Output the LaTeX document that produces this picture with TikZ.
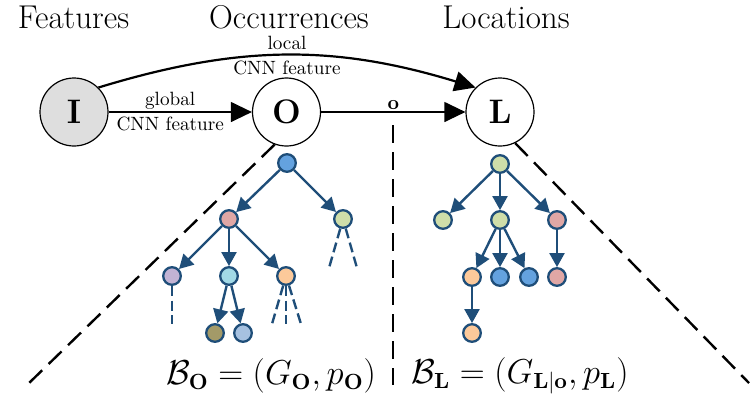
\documentclass[tikz,border=0pt]{standalone}
\usepackage{amsmath}
\usetikzlibrary{arrows.meta}

\definecolor{treeline}{HTML}{1F4E79}
\definecolor{cblue}{HTML}{64A2DF}
\definecolor{cpink}{HTML}{E0A7A5}
\definecolor{cgreen}{HTML}{CFDEA9}
\definecolor{cpurple}{HTML}{C2B3D4}
\definecolor{ccyan}{HTML}{A2D9E6}
\definecolor{cpeach}{HTML}{FCC99A}
\definecolor{colive}{HTML}{A39A68}
\definecolor{clblue}{HTML}{A6C1E0}
\definecolor{igray}{HTML}{DEDEDE}

\tikzset{
  bigvar/.style={circle, draw, line width=0.6pt, minimum size=34pt, inner sep=0pt,
    font=\fontsize{17}{20}\selectfont\bfseries},
  title/.style={anchor=base, font=\fontsize{16.5}{20}\selectfont},
  elabel/.style={align=center, font=\fontsize{9.6}{11.5}\selectfont, inner sep=1pt},
  bigarrow/.style={line width=0.6pt, -{Triangle[length=10.5pt,width=10pt]}},
  guide/.style={line width=1.2pt, dash pattern=on 9pt off 4.5pt},
  tnode/.style={circle, draw=treeline, line width=1.15pt, minimum size=8.8pt, inner sep=0pt},
  tedge/.style={draw=treeline, line width=1.2pt, -{Triangle[length=7pt,width=7.5pt]}},
  tdash/.style={draw=treeline, line width=1.2pt, dash pattern=on 5pt off 2.3pt},
  formula/.style={font=\fontsize{16}{19}\selectfont},
}

\begin{document}
\begin{tikzpicture}[x=0.5pt, y=-0.5pt]
\useasboundingbox (0,0) rectangle (750,393);

% column titles
\node[title] (tF) at (73.5,28) {Features};
\node[title] (tO) at (289,28) {Occurrences};
\node[title] (tL) at (506,28) {Locations};

% model variables
\node[bigvar, fill=igray] (I) at (74,112) {I};
\node[bigvar] (O) at (286.5,112) {O};
\node[bigvar] (L) at (500,112) {L};

\draw[bigarrow] (I) -- node[elabel, pos=0.43] {global\\[1pt]CNN feature} (O);
\draw[bigarrow] (O) -- node[above, pos=0.5, inner sep=1pt, font=\fontsize{10}{12}\selectfont] {$\mathbf{o}$} (L);
\draw[line width=1.1pt, -{Triangle[length=10.5pt,width=10pt]}]
  (I.north east) to[bend left=17] node[elabel] {local\\[1pt]CNN feature} (L.north west);

% separating guides
\coordinate (gl) at (27,385);
\coordinate (gr) at (749,383);
\coordinate (gmt) at (393,125);
\coordinate (gmb) at (393,385);
\draw[guide] (O.250) -- (gl);
\draw[guide] (L.-64) -- (gr);
\draw[guide] (gmt) -- (gmb);

% occurrence tree
\node[tnode, fill=cblue]   (o1) at (287,163) {};
\node[tnode, fill=cpink]   (o2) at (229,219) {};
\node[tnode, fill=cgreen]  (o3) at (343,219) {};
\node[tnode, fill=cpurple] (o4) at (172,276) {};
\node[tnode, fill=ccyan]   (o5) at (229,276) {};
\node[tnode, fill=cpeach]  (o6) at (286,276) {};
\node[tnode, fill=colive]  (o7) at (215,333) {};
\node[tnode, fill=clblue]  (o8) at (243,333) {};
\draw[tedge] (o1) -- (o2);
\draw[tedge] (o1) -- (o3);
\draw[tedge] (o2) -- (o4);
\draw[tedge] (o2) -- (o5);
\draw[tedge] (o2) -- (o6);
\draw[tedge] (o5) -- (o7);
\draw[tedge] (o5) -- (o8);
\coordinate (d1) at (329,268);
\coordinate (d2) at (357,268);
\coordinate (d3) at (172,324);
\coordinate (d4) at (272,324);
\coordinate (d5) at (286,324);
\coordinate (d6) at (301,324);
\draw[tdash] (o3) -- (d1);
\draw[tdash] (o3) -- (d2);
\draw[tdash] (o4) -- (d3);
\draw[tdash] (o6) -- (d4);
\draw[tdash] (o6) -- (d5);
\draw[tdash] (o6) -- (d6);

% location tree
\node[tnode, fill=cgreen] (l1) at (500,164) {};
\node[tnode, fill=cgreen] (l2) at (443,220) {};
\node[tnode, fill=cgreen] (l3) at (500,220) {};
\node[tnode, fill=cpink]  (l4) at (557,220) {};
\node[tnode, fill=cpeach] (l5) at (472,277) {};
\node[tnode, fill=cblue]  (l6) at (500,277) {};
\node[tnode, fill=cblue]  (l7) at (529,277) {};
\node[tnode, fill=cpink]  (l8) at (557,277) {};
\node[tnode, fill=cpeach] (l9) at (472,333) {};
\draw[tedge] (l1) -- (l2);
\draw[tedge] (l1) -- (l3);
\draw[tedge] (l1) -- (l4);
\draw[tedge] (l3) -- (l5);
\draw[tedge] (l3) -- (l6);
\draw[tedge] (l3) -- (l7);
\draw[tedge] (l4) -- (l8);
\draw[tedge] (l5) -- (l9);

% tree notation
\node[formula] (bO) at (271,376) {$\mathcal{B}_{\mathbf{O}} = (G_{\mathbf{O}}, p_{\mathbf{O}})$};
\node[formula] (bL) at (520,376) {$\mathcal{B}_{\mathbf{L}} = (G_{\mathbf{L}|\mathbf{o}}, p_{\mathbf{L}})$};
\end{tikzpicture}
\end{document}
